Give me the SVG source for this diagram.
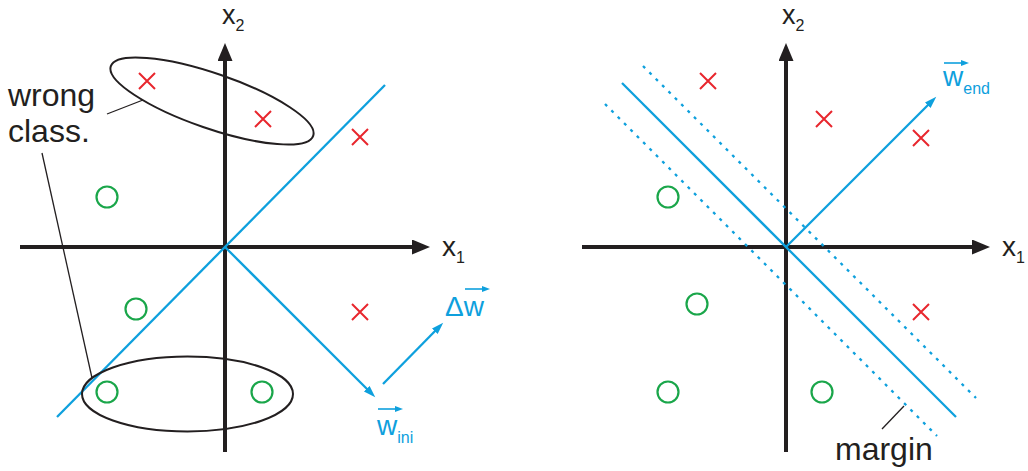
<svg xmlns="http://www.w3.org/2000/svg" width="1028" height="471" viewBox="0 0 1028 471">
<defs>
<style>
.axis{stroke:#231f20;stroke-width:4;fill:none}
.blue{stroke:#0ea0dd;stroke-width:2.3;fill:none}
.dot{stroke:#0ea0dd;stroke-width:2.3;fill:none;stroke-dasharray:3 6}
.ell{stroke:#231f20;stroke-width:2;fill:none}
.lead{stroke:#231f20;stroke-width:1.3;fill:none}
.cross{stroke:#e8262d;stroke-width:2;fill:none}
.circ{stroke:#1aa64a;stroke-width:2.2;fill:none}
.ov{stroke:#0ea0dd;stroke-width:1.6;fill:none}
.lbl{font-family:"Liberation Sans",Arial,sans-serif;fill:#231f20}
.blbl{font-family:"Liberation Sans",Arial,sans-serif;fill:#0ea0dd}
</style>
<marker id="ah" markerUnits="userSpaceOnUse" markerWidth="20" markerHeight="16" refX="8" refY="7.5" orient="auto">
<path d="M0,0 L18,7.5 L0,15 z" fill="#231f20"/>
</marker>
<marker id="bh" markerUnits="userSpaceOnUse" markerWidth="14" markerHeight="10" refX="6" refY="4" orient="auto">
<path d="M0,0 L12,4 L0,8 z" fill="#0ea0dd"/>
</marker>
<marker id="oh" markerUnits="userSpaceOnUse" markerWidth="10" markerHeight="8" refX="4" refY="3" orient="auto">
<path d="M0,0 L8,3 L0,6 z" fill="#0ea0dd"/>
</marker>
<g id="x"><path class="cross" d="M-8,-8 L8,8 M-8,8 L8,-8"/></g>
</defs>

<g id="left-axes">
<line class="axis" x1="20" y1="247" x2="420" y2="247" marker-end="url(#ah)"/>
<line class="axis" x1="225" y1="452" x2="225" y2="53" marker-end="url(#ah)"/>
<text class="lbl" x="442" y="256" font-size="28">x<tspan font-size="16" dy="7">1</tspan></text>
<text class="lbl" x="222" y="24" font-size="27">x<tspan font-size="16" dy="7">2</tspan></text>
</g>

<g id="right-axes">
<line class="axis" x1="582" y1="247" x2="980" y2="247" marker-end="url(#ah)"/>
<line class="axis" x1="786" y1="452" x2="786" y2="53" marker-end="url(#ah)"/>
<text class="lbl" x="1002" y="256" font-size="28">x<tspan font-size="16" dy="7">1</tspan></text>
<text class="lbl" x="782" y="24" font-size="27">x<tspan font-size="16" dy="7">2</tspan></text>
</g>

<g id="connectors">
<line class="blue" x1="57" y1="417" x2="385" y2="85"/>
<line class="blue" x1="225" y1="247" x2="371" y2="393" marker-end="url(#bh)"/>
<line class="blue" x1="383" y1="384" x2="439" y2="327" marker-end="url(#bh)"/>
<line class="blue" x1="622" y1="83" x2="956" y2="417"/>
<line class="dot" x1="643" y1="66" x2="976" y2="398"/>
<line class="dot" x1="605" y1="104" x2="937" y2="436"/>
<line class="blue" x1="786" y1="247" x2="932" y2="101" marker-end="url(#bh)"/>
<line class="lead" x1="107" y1="114" x2="143" y2="100"/>
<line class="lead" x1="42" y1="153" x2="92" y2="378"/>
<line class="lead" x1="882" y1="429" x2="904" y2="406"/>
</g>

<g id="wrong-top">
<ellipse class="ell" cx="212" cy="101" rx="107" ry="27.5" transform="rotate(19 212 101)"/>
</g>
<g id="wrong-bottom">
<ellipse class="ell" cx="187.5" cy="394" rx="105.5" ry="37.5"/>
</g>

<g id="label-wrong">
<text class="lbl" x="8" y="106" font-size="32">wrong</text>
<text class="lbl" x="8" y="142" font-size="32">class.</text>
</g>

<g id="label-margin">
<text class="lbl" x="835" y="460" font-size="32">margin</text>
</g>

<g id="label-wini">
<line class="ov" x1="378" y1="409" x2="399" y2="409" marker-end="url(#oh)"/>
<text class="blbl" x="377" y="435" font-size="28">w<tspan font-size="16" dy="8">ini</tspan></text>
</g>

<g id="label-dw">
<line class="ov" x1="465" y1="289" x2="486" y2="289" marker-end="url(#oh)"/>
<text class="blbl" x="445" y="316" font-size="28">Δw</text>
</g>

<g id="label-wend">
<line class="ov" x1="944" y1="63" x2="965" y2="63" marker-end="url(#oh)"/>
<text class="blbl" x="943" y="86" font-size="28">w<tspan font-size="16" dy="8">end</tspan></text>
</g>

<g id="class-x">
<use href="#x" x="147" y="81"/>
<use href="#x" x="263" y="119"/>
<use href="#x" x="360" y="137"/>
<use href="#x" x="360" y="312"/>
<use href="#x" x="708" y="81"/>
<use href="#x" x="824" y="119"/>
<use href="#x" x="921" y="138"/>
<use href="#x" x="921" y="312"/>
</g>

<g id="class-o">
<circle class="circ" cx="107" cy="197" r="10.5"/>
<circle class="circ" cx="136" cy="309" r="10.5"/>
<circle class="circ" cx="107" cy="392" r="10.5"/>
<circle class="circ" cx="262" cy="392" r="10.5"/>
<circle class="circ" cx="668" cy="197" r="10.5"/>
<circle class="circ" cx="697" cy="304" r="10.5"/>
<circle class="circ" cx="668" cy="392" r="10.5"/>
<circle class="circ" cx="822" cy="392" r="10.5"/>
</g>
</svg>
